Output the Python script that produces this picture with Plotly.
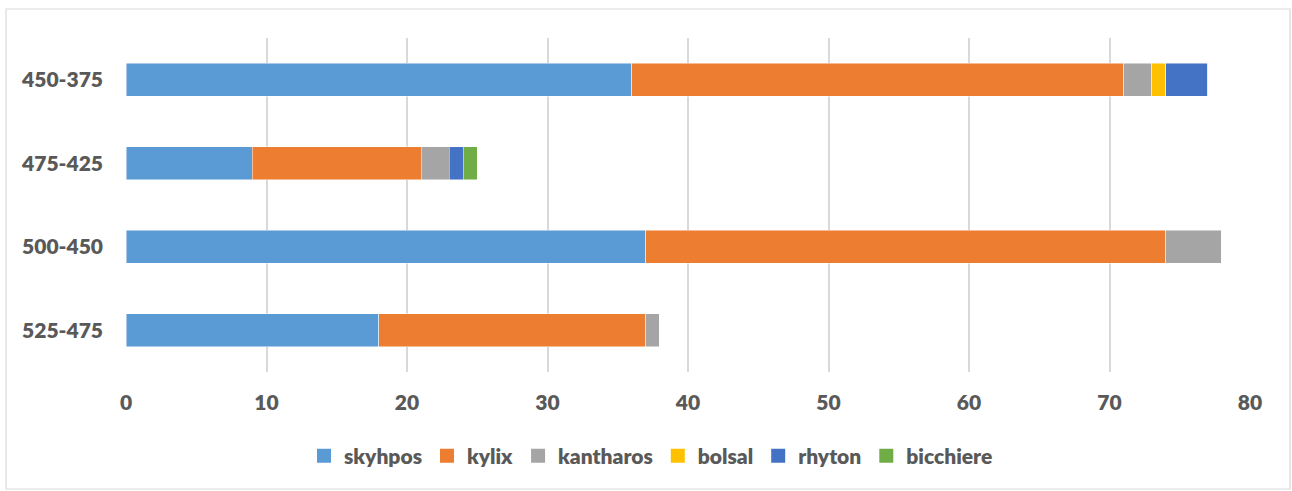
import plotly.graph_objects as go

periods = ["525-475", "500-450", "475-425", "450-375"]
skyhpos = [18, 37, 9, 36]
kylix = [19, 37, 12, 35]
kantharos = [1, 4, 2, 2]
bolsal = [0, 0, 0, 1]
rhyton = [0, 0, 1, 3]
bicchiere = [0, 0, 1, 0]
x_ticks = [0, 10, 20, 30, 40, 50, 60, 70, 80]

series = [
    ("skyhpos", skyhpos, "#5B9BD5"),
    ("kylix", kylix, "#ED7D31"),
    ("kantharos", kantharos, "#A5A5A5"),
    ("bolsal", bolsal, "#FFC000"),
    ("rhyton", rhyton, "#4472C4"),
    ("bicchiere", bicchiere, "#70AD47"),
]

FONT = "Lato"
TXT = "#595959"
SIZE = 21
WEIGHT = 800

fig = go.Figure()
for name, vals, color in series:
    fig.add_trace(go.Bar(
        y=periods, x=vals, name=name, orientation="h", legendgroup=name,
        showlegend=False,
        marker=dict(color=color, line=dict(color="rgba(255,255,255,0.6)", width=0.8)),
    ))
# legend keys: larger square swatches
for name, vals, color in series:
    fig.add_trace(go.Scatter(
        x=[None], y=[None], mode="markers", name=name, legendgroup=name,
        marker=dict(symbol="square", size=14, color=color),
    ))

W, H = 1292, 491
L, R, T, B = 126, 42, 38, 119
pw, ph = W - L - R, H - T - B

def px_x(p):
    return (p - L) / pw

def px_y(p):
    return (H - B - p) / ph

fig.update_layout(
    width=W, height=H,
    margin=dict(l=L, r=R, t=T, b=B),
    barmode="stack",
    bargap=0.6,
    plot_bgcolor="white",
    paper_bgcolor="white",
    font=dict(family=FONT, size=SIZE, color=TXT),
    xaxis=dict(
        range=[0, 80], tickvals=x_ticks, showgrid=True,
        gridcolor="#D9D9D9", gridwidth=1.5, zeroline=False,
        showline=False, ticklabelstandoff=16,
        tickfont=dict(family=FONT, size=SIZE, color=TXT, weight=WEIGHT),
    ),
    yaxis=dict(
        categoryorder="array", categoryarray=periods,
        showgrid=False, zeroline=False, showline=False,
        ticklabelstandoff=22,
        tickfont=dict(family=FONT, size=SIZE, color=TXT, weight=WEIGHT),
    ),
    legend=dict(
        orientation="h", x=px_x(651), xanchor="center", y=px_y(456), yanchor="middle",
        font=dict(family=FONT, size=SIZE, color=TXT, weight=WEIGHT),
        itemwidth=30, traceorder="normal",
    ),
    shapes=[dict(
        type="rect", xref="paper", yref="paper",
        x0=px_x(6), x1=px_x(1290), y0=px_y(489), y1=px_y(9),
        line=dict(color="#D9D9D9", width=1.2), layer="below",
    )],
)

fig.write_html("out.html")
